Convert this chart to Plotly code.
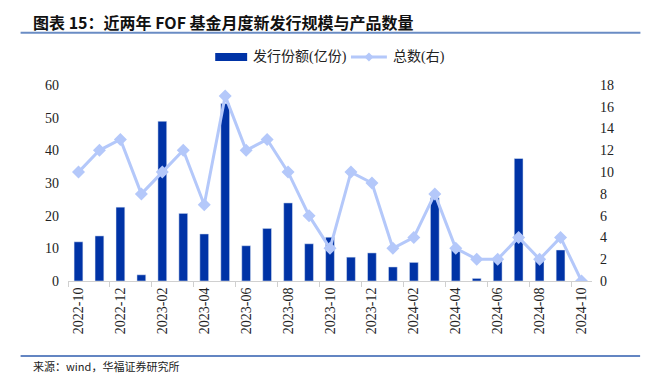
import plotly.graph_objects as go

months = ["2022-10","2022-11","2022-12","2023-01","2023-02","2023-03","2023-04","2023-05",
          "2023-06","2023-07","2023-08","2023-09","2023-10","2023-11","2023-12","2024-01",
          "2024-02","2024-03","2024-04","2024-05","2024-06","2024-07","2024-08","2024-09","2024-10"]
issue_size = [12.0, 13.8, 22.6, 1.9, 48.9, 20.7, 14.4, 54.3, 10.8, 16.1, 23.9, 11.4, 13.4,
              7.3, 8.6, 4.3, 5.7, 25.5, 9.5, 0.8, 6.7, 37.5, 6.7, 9.5, 0.0]
fund_count = [10, 12, 13, 8, 10, 12, 7, 17, 12, 13, 10, 6, 3, 10, 9, 3, 4, 8, 3, 2, 2, 4, 2, 4, 0]

W, H = 656, 391
L, R, T, B = 67.5, 63.5, 85, 110
PW, PH = W - L - R, H - T - B

def px(x):
    return (x - L) / PW

def py(y):
    return (H - B - y) / PH

BAR = "#0033A6"
LINE = "#B4C8FA"
SERIF = "Liberation Serif, Times New Roman, Noto Sans CJK SC, serif"

fig = go.Figure()
fig.add_trace(go.Bar(x=months, y=issue_size, marker_color=BAR, width=0.42,
                     name="发行份额(亿份)", showlegend=False))
fig.add_trace(go.Scatter(x=months, y=fund_count, yaxis="y2", mode="lines+markers",
                         line=dict(color=LINE, width=3),
                         marker=dict(symbol="diamond", size=10, color=LINE),
                         name="总数(右)", showlegend=False))

shapes = []
annotations = []
# title
annotations.append(dict(text="<b>图表 15：近两年 FOF 基金月度新发行规模与产品数量</b>",
                        xref="paper", yref="paper", x=px(30), y=py(22),
                        xanchor="left", yanchor="middle", showarrow=False,
                        font=dict(family="Noto Sans CJK SC", size=16, color="#111")))
shapes.append(dict(type="line", xref="paper", yref="paper", x0=px(20), x1=px(641),
                   y0=py(32.7), y1=py(32.7), line=dict(color="#6A8CC4", width=2)))
# bottom source
shapes.append(dict(type="line", xref="paper", yref="paper", x0=px(20), x1=px(640.7),
                   y0=py(356), y1=py(356), line=dict(color="#2F5DAE", width=1.5)))
annotations.append(dict(text="来源：wind，华福证券研究所",
                        xref="paper", yref="paper", x=px(30), y=py(365.5),
                        xanchor="left", yanchor="middle", showarrow=False,
                        font=dict(family="Noto Sans CJK SC", size=11, color="#222")))
# custom legend
shapes.append(dict(type="rect", xref="paper", yref="paper", x0=px(215), x1=px(247),
                   y0=py(61), y1=py(53), fillcolor=BAR, line=dict(width=0)))
annotations.append(dict(text="发行份额(亿份)", xref="paper", yref="paper",
                        x=px(251), y=py(57), xanchor="left", yanchor="middle",
                        showarrow=False, font=dict(family=SERIF, size=14, color="#222")))
shapes.append(dict(type="line", xref="paper", yref="paper", x0=px(351), x1=px(387),
                   y0=py(57), y1=py(57), line=dict(color=LINE, width=3)))
cx, cy, d = 369, 57, 4.5
shapes.append(dict(type="path", xref="paper", yref="paper",
                   path=f"M {px(cx)} {py(cy-d)} L {px(cx+d)} {py(cy)} L {px(cx)} {py(cy+d)} L {px(cx-d)} {py(cy)} Z",
                   fillcolor=LINE, line=dict(width=0)))
annotations.append(dict(text="总数(右)", xref="paper", yref="paper",
                        x=px(391), y=py(57), xanchor="left", yanchor="middle",
                        showarrow=False, font=dict(family=SERIF, size=14, color="#222")))

fig.update_layout(
    width=W, height=H,
    margin=dict(l=L, r=R, t=T, b=B, pad=0),
    paper_bgcolor="white", plot_bgcolor="white",
    shapes=shapes, annotations=annotations,
    showlegend=False,
    xaxis=dict(type="category", tickangle=-90, tickmode="linear", dtick=2, tick0=0,
               tickson="boundaries", ticks="outside", ticklen=5, tickcolor="#D0D0D0",
               showline=True, linecolor="#D0D0D0", linewidth=1, showgrid=False,
               range=[-0.5, 24.5],
               tickfont=dict(family=SERIF, size=14, color="#222")),
    yaxis=dict(range=[0, 60], dtick=10, showgrid=False, zeroline=False, ticks="",
               showline=False, ticklabelstandoff=8,
               tickfont=dict(family=SERIF, size=14, color="#222")),
    yaxis2=dict(range=[0, 18], dtick=2, overlaying="y", side="right", showgrid=False,
                zeroline=False, ticks="", showline=False, ticklabelstandoff=7,
                tickfont=dict(family=SERIF, size=14, color="#222")),
    bargap=0.58,
)

fig.write_html("out.html", config={"displayModeBar": False},
               post_script="document.body.style.margin='0px';document.body.style.overflow='hidden';")
